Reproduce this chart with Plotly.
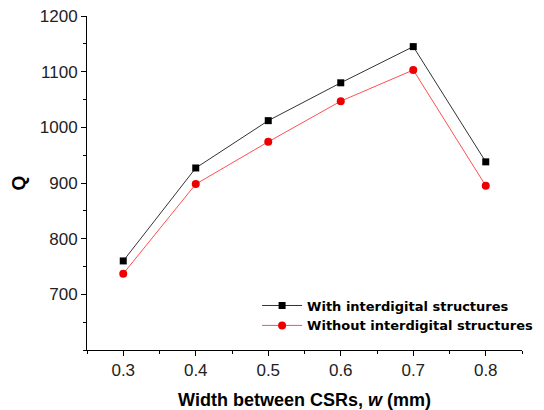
import plotly.graph_objects as go

w = [0.3, 0.4, 0.5, 0.6, 0.7, 0.8]
q_with = [760, 927, 1012, 1080, 1145, 938]
q_without = [737, 898, 974, 1047, 1103, 895]

fig = go.Figure()
fig.add_trace(go.Scatter(
    x=w, y=q_with, mode="lines+markers", name="With interdigital structures",
    line=dict(color="#333333", width=1),
    marker=dict(symbol="square", size=7, color="black"),
))
fig.add_trace(go.Scatter(
    x=w, y=q_without, mode="lines+markers", name="Without interdigital structures",
    line=dict(color="#ff5050", width=1),
    marker=dict(symbol="circle", size=8, color="#ee0000"),
))

axis_common = dict(
    showline=True, linecolor="black", linewidth=1,
    ticks="outside", ticklen=5, tickcolor="black",
    showgrid=False, zeroline=False, automargin=False,
    ticklabeloverflow="allow",
    tickfont=dict(family="Liberation Sans, Arial", size=17, color="#222222"),
)
fig.update_xaxes(
    range=[0.25, 0.85], tickvals=[0.3, 0.4, 0.5, 0.6, 0.7, 0.8],
    ticktext=["0.3", "0.4", "0.5", "0.6", "0.7", "0.8"],
    minor=dict(ticks="outside", ticklen=3, dtick=0.05, tick0=0.25, tickcolor="black"),
    title=dict(text="<b>Width between CSRs, <i>w</i> (mm)</b>",
               font=dict(family="Liberation Sans, Arial", size=18, color="black"), standoff=14),
    **axis_common,
)
fig.update_yaxes(
    range=[600, 1200], tickvals=[700, 800, 900, 1000, 1100, 1200],
    minor=dict(ticks="outside", ticklen=3, dtick=50, tick0=600, tickcolor="black"),
    title=dict(text="<b>Q</b>", font=dict(family="Liberation Sans, Arial", size=19, color="black"), standoff=12),
    **axis_common,
)
fig.update_layout(
    width=536, height=402,
    margin=dict(l=79, r=22, t=8, b=60, autoexpand=False),
    plot_bgcolor="white", paper_bgcolor="white",
    legend=dict(x=0.391, y=0.178, xanchor="left", yanchor="top",
                bgcolor="rgba(0,0,0,0)", tracegroupgap=0, itemwidth=40,
                font=dict(family="DejaVu Sans", size=13, color="black", weight="bold")),
)
fig.write_html("out.html")
